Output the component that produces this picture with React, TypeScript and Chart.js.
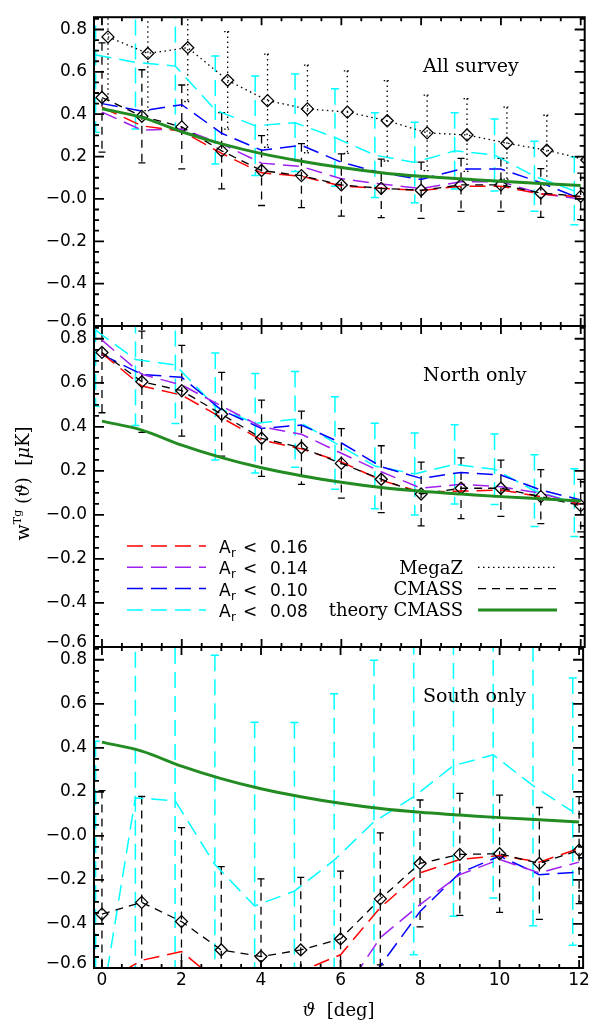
import React, { useEffect, useRef } from 'react';
import { Chart, registerables } from 'chart.js';

Chart.register(...registerables);

// ---------------- data ----------------
const THETA = [0, 1, 2, 3, 4, 5, 6, 7, 8, 9, 10, 11, 12];
const MEGAZ_OFFSET = 0.15;
const AR08_OFFSET = -0.16;

const THEORY_CMASS = [0.426, 0.385, 0.317, 0.26, 0.214, 0.178, 0.148, 0.124, 0.107, 0.095, 0.083, 0.073, 0.063];

const ALL_CMASS = [0.479, 0.39, 0.34, 0.227, 0.134, 0.11, 0.066, 0.05, 0.041, 0.066, 0.066, 0.028, 0.012];
const ALL_CMASS_ERR = [0.258, 0.22, 0.198, 0.18, 0.165, 0.151, 0.147, 0.138, 0.133, 0.125, 0.125, 0.115, 0.11];
const ALL_MEGAZ = [0.765, 0.687, 0.714, 0.56, 0.464, 0.425, 0.41, 0.369, 0.312, 0.302, 0.263, 0.23, 0.184];
const ALL_MEGAZ_ERR = [0.3, 0.27, 0.254, 0.23, 0.22, 0.207, 0.195, 0.19, 0.178, 0.172, 0.17, 0.165, 0.165];
const ALL_AR16 = [0.433, 0.345, 0.32, 0.215, 0.123, 0.107, 0.061, 0.05, 0.04, 0.06, 0.06, 0.023, 0.01];
const ALL_AR14 = [0.41, 0.325, 0.33, 0.26, 0.169, 0.153, 0.095, 0.07, 0.049, 0.081, 0.081, 0.025, 0.0];
const ALL_AR10 = [0.45, 0.415, 0.445, 0.31, 0.23, 0.253, 0.173, 0.123, 0.092, 0.141, 0.141, 0.077, 0.0];
const ALL_AR08 = [0.68, 0.645, 0.627, 0.42, 0.345, 0.36, 0.29, 0.207, 0.172, 0.227, 0.207, 0.107, 0.038];
const ALL_AR08_ERR = [0.365, 0.315, 0.3, 0.255, 0.235, 0.23, 0.23, 0.2, 0.19, 0.18, 0.17, 0.165, 0.16];

const NORTH_CMASS = [0.738, 0.605, 0.564, 0.457, 0.348, 0.305, 0.234, 0.162, 0.095, 0.121, 0.121, 0.083, 0.042];
const NORTH_CMASS_ERR = [0.274, 0.23, 0.206, 0.19, 0.173, 0.166, 0.158, 0.152, 0.145, 0.138, 0.128, 0.123, 0.119];
const NORTH_AR16 = [0.734, 0.585, 0.544, 0.441, 0.34, 0.3, 0.241, 0.157, 0.103, 0.108, 0.113, 0.083, 0.048];
const NORTH_AR14 = [0.794, 0.638, 0.59, 0.494, 0.4, 0.366, 0.28, 0.196, 0.121, 0.139, 0.128, 0.098, 0.048];
const NORTH_AR10 = [0.728, 0.638, 0.625, 0.476, 0.393, 0.408, 0.327, 0.219, 0.166, 0.193, 0.181, 0.113, 0.068];
const NORTH_AR08 = [0.839, 0.706, 0.681, 0.492, 0.416, 0.434, 0.327, 0.222, 0.186, 0.23, 0.207, 0.11, 0.056];
const NORTH_AR08_ERR = [0.346, 0.3, 0.266, 0.243, 0.226, 0.217, 0.21, 0.194, 0.186, 0.18, 0.16, 0.163, 0.154];

const SOUTH_CMASS = [-0.355, -0.302, -0.389, -0.518, -0.548, -0.518, -0.468, -0.286, -0.125, -0.084, -0.081, -0.125, -0.065];
const SOUTH_CMASS_ERR = [0.561, 0.481, 0.427, 0.378, 0.353, 0.33, 0.308, 0.3, 0.288, 0.277, 0.266, 0.254, 0.243];
const SOUTH_AR16 = [-0.67, -0.565, -0.525, -0.675, -0.72, -0.615, -0.54, -0.325, -0.168, -0.107, -0.089, -0.119, -0.057];
const SOUTH_AR14 = [-0.95, -0.95, -0.9, -0.95, -1.0, -0.9, -0.733, -0.462, -0.312, -0.176, -0.107, -0.168, -0.119];
const SOUTH_AR10 = [-1.0, -1.0, -0.95, -1.0, -1.05, -0.95, -0.85, -0.59, -0.343, -0.168, -0.092, -0.176, -0.164];
const SOUTH_AR08 = [-0.94, 0.172, 0.16, -0.13, -0.318, -0.251, -0.11, 0.064, 0.178, 0.319, 0.368, 0.228, 0.11];
const SOUTH_AR08_ERR = [1.37, 1.1, 1.02, 0.95, 0.834, 0.766, 0.756, 0.734, 0.718, 0.684, 0.65, 0.636, 0.607];

const Y_TICK_VALUES = [-0.6, -0.4, -0.2, 0, 0.2, 0.4, 0.6, 0.8];
const Y_TICK_LABELS = ['\u22120.6', '\u22120.4', '\u22120.2', '\u22120.0', '0.2', '0.4', '0.6', '0.8'];
const X_TICK_VALUES = [0, 2, 4, 6, 8, 10, 12];
const X_TICK_LABELS = ['0', '2', '4', '6', '8', '10', '12'];

const PANEL_LABELS = ['All survey', 'North only', 'South only'];
const AR_CUTS = ['0.16', '0.14', '0.10', '0.08'];
const SAMPLE_LABELS = ['MegaZ', 'CMASS', 'theory CMASS'];

// ---------------- styles ----------------
const X_MIN = -0.2;
const X_MAX = 12.1;
const Y_MIN = -0.6;
const Y_MAX = 0.858;

const RED = '#FF0000';
const PURPLE = '#A020F0';
const BLUE = '#0000FF';
const CYAN = '#00FFFF';
const GREEN = '#228B22';
const BLACK = '#000000';

const AR_COLORS = [RED, PURPLE, BLUE, CYAN];
const AR_DASH = [16, 8];
const CMASS_DASH = [8, 6];
const MEGAZ_DASH = [1.5, 3.5];

const SANS = '"DejaVu Sans", sans-serif';
const SERIF = '"DejaVu Serif", serif';

type Spec = {
  key: string;
  label: string;
  padTop: number;
  padBottom: number;
  showX: boolean;
  cmass: number[];
  cmassErr: number[];
  megaz?: number[];
  megazErr?: number[];
  ar: number[][];
  ar08Err: number[];
  legend: boolean;
  yTitle: boolean;
};

const PANELS: Spec[] = [
  {
    key: 'all', label: PANEL_LABELS[0], padTop: 5, padBottom: 697, showX: false,
    cmass: ALL_CMASS, cmassErr: ALL_CMASS_ERR, megaz: ALL_MEGAZ, megazErr: ALL_MEGAZ_ERR,
    ar: [ALL_AR16, ALL_AR14, ALL_AR10, ALL_AR08], ar08Err: ALL_AR08_ERR, legend: false, yTitle: false,
  },
  {
    key: 'north', label: PANEL_LABELS[1], padTop: 326, padBottom: 376, showX: false,
    cmass: NORTH_CMASS, cmassErr: NORTH_CMASS_ERR,
    ar: [NORTH_AR16, NORTH_AR14, NORTH_AR10, NORTH_AR08], ar08Err: NORTH_AR08_ERR, legend: true, yTitle: true,
  },
  {
    key: 'south', label: PANEL_LABELS[2], padTop: 647, padBottom: 0, showX: true,
    cmass: SOUTH_CMASS, cmassErr: SOUTH_CMASS_ERR,
    ar: [SOUTH_AR16, SOUTH_AR14, SOUTH_AR10, SOUTH_AR08], ar08Err: SOUTH_AR08_ERR, legend: false, yTitle: false,
  },
];

// ---------------- helpers ----------------
function lineDs(label: string, vals: number[], color: string, dash: number[], width: number, shift: number, extra: any = {}) {
  return {
    label,
    data: vals.map((v, i) => ({ x: THETA[i] + shift, y: v })),
    borderColor: color,
    backgroundColor: color,
    borderWidth: width,
    borderDash: dash,
    pointRadius: 0,
    pointHoverRadius: 0,
    tension: 0,
    fill: false,
    ...extra,
  };
}

const DIAMOND = {
  pointRadius: 6,
  pointStyle: 'rectRot',
  pointBorderWidth: 1.3,
  pointBorderColor: BLACK,
  pointBackgroundColor: 'rgba(0,0,0,0)',
};

function labelFor(values: number[], labels: string[], v: number) {
  const i = values.findIndex((t) => Math.abs(t - v) < 1e-6);
  return i >= 0 ? labels[i] : '';
}

const isBottomTick = (v: number) => Math.abs(v - Y_MIN) < 1e-6;

function drawErrorBars(chart: any) {
  const { ctx, chartArea, scales } = chart;
  const xs = scales.x;
  const ys = scales.y;
  ctx.save();
  ctx.beginPath();
  ctx.rect(chartArea.left, chartArea.top, chartArea.right - chartArea.left, chartArea.bottom - chartArea.top);
  ctx.clip();
  const dsets = chart.data.datasets;
  for (let k = dsets.length - 1; k >= 0; k--) {
    const ds = dsets[k];
    if (!ds.errors) continue;
    ctx.strokeStyle = ds.borderColor;
    ctx.lineWidth = ds.errWidth || ds.borderWidth;
    ds.data.forEach((p: any, i: number) => {
      const e = ds.errors[i];
      const px = xs.getPixelForValue(p.x);
      const pt = ys.getPixelForValue(p.y + e);
      const pb = ys.getPixelForValue(p.y - e);
      ctx.setLineDash(ds.borderDash || []);
      ctx.beginPath();
      ctx.moveTo(px, pt);
      ctx.lineTo(px, pb);
      ctx.stroke();
      ctx.setLineDash(ds.capDash || []);
      const c = ds.capHalf || 3.5;
      ctx.beginPath();
      ctx.moveTo(px - c, pt);
      ctx.lineTo(px + c, pt);
      ctx.moveTo(px - c, pb);
      ctx.lineTo(px + c, pb);
      ctx.stroke();
    });
  }
  ctx.restore();
}

function drawFrame(chart: any) {
  const { ctx, chartArea, scales } = chart;
  const { left, right, top, bottom } = chartArea;
  const xs = scales.x;
  const ys = scales.y;
  ctx.save();
  ctx.setLineDash([]);
  ctx.strokeStyle = BLACK;
  ctx.lineWidth = 1.8;
  ctx.beginPath();
  for (let k = 0; k <= 24; k++) {
    const px = xs.getPixelForValue(k * 0.5);
    const len = k % 4 === 0 ? 8 : 4;
    ctx.moveTo(px, bottom);
    ctx.lineTo(px, bottom - len);
    ctx.moveTo(px, top);
    ctx.lineTo(px, top + len);
  }
  for (let k = 0; k <= 30; k++) {
    const v = Y_MIN + k * 0.05;
    if (v > Y_MAX) break;
    const py = ys.getPixelForValue(v);
    const len = k % 4 === 0 ? 10 : 5;
    ctx.moveTo(left, py);
    ctx.lineTo(left + len, py);
    ctx.moveTo(right, py);
    ctx.lineTo(right - len, py);
  }
  ctx.stroke();
  ctx.lineWidth = 2;
  ctx.strokeRect(left, top, right - left, bottom - top);
  ctx.restore();
}

type Part = { t: string; font: string; dy?: number };

function measureParts(ctx: CanvasRenderingContext2D, parts: Part[]) {
  let w = 0;
  for (const p of parts) {
    ctx.font = p.font;
    w += ctx.measureText(p.t).width;
  }
  return w;
}

function drawParts(ctx: CanvasRenderingContext2D, parts: Part[], x: number, y: number) {
  let cx = x;
  ctx.textAlign = 'left';
  ctx.textBaseline = 'alphabetic';
  for (const p of parts) {
    ctx.font = p.font;
    ctx.fillText(p.t, cx, y + (p.dy || 0));
    cx += ctx.measureText(p.t).width;
  }
  return cx;
}

function drawLegend(chart: any) {
  const { ctx, chartArea } = chart;
  const { left, top } = chartArea;
  const rowY = (i: number) => top + 220 + 21.3 * i;
  ctx.save();
  ctx.fillStyle = BLACK;
  // left column: extinction cuts
  AR_CUTS.forEach((cut, i) => {
    const y = rowY(i);
    ctx.strokeStyle = AR_COLORS[i];
    ctx.lineWidth = 1.5;
    ctx.setLineDash(AR_DASH);
    ctx.beginPath();
    ctx.moveTo(left + 33, y);
    ctx.lineTo(left + 112, y);
    ctx.stroke();
    const base = y + 7;
    ctx.textAlign = 'left';
    ctx.textBaseline = 'alphabetic';
    ctx.font = `17px ${SANS}`;
    ctx.fillText('A', left + 125, base);
    ctx.font = `12px ${SANS}`;
    ctx.fillText('r', left + 137, base + 4);
    ctx.font = `17px ${SANS}`;
    ctx.fillText('<', left + 149, base);
    ctx.fillText(cut, left + 176, base);
  });
  // right column: samples
  const styles = [
    { color: BLACK, dash: MEGAZ_DASH, width: 1.3 },
    { color: BLACK, dash: CMASS_DASH, width: 1.3 },
    { color: GREEN, dash: [], width: 3 },
  ];
  SAMPLE_LABELS.forEach((lab, j) => {
    const y = rowY(j + 1);
    const st = styles[j];
    ctx.strokeStyle = st.color;
    ctx.lineWidth = st.width;
    ctx.setLineDash(st.dash);
    ctx.beginPath();
    ctx.moveTo(left + 384, y);
    ctx.lineTo(left + 463, y);
    ctx.stroke();
    ctx.font = `18px ${SERIF}`;
    ctx.textAlign = 'right';
    ctx.textBaseline = 'alphabetic';
    ctx.fillText(lab, left + 369, y + 6.5);
  });
  ctx.restore();
}

function drawYTitle(chart: any) {
  const { ctx, chartArea } = chart;
  const cy = (chartArea.top + chartArea.bottom) / 2 - 3;
  const parts: Part[] = [
    { t: 'w', font: `19px ${SERIF}` },
    { t: 'Tg', font: `11px ${SERIF}`, dy: -8 },
    { t: ' (', font: `18px ${SERIF}` },
    { t: '\u03D1', font: `italic 18px ${SERIF}` },
    { t: ')  [', font: `18px ${SERIF}` },
    { t: '\u03BC', font: `italic 18px ${SERIF}` },
    { t: 'K]', font: `18px ${SERIF}` },
  ];
  ctx.save();
  ctx.fillStyle = BLACK;
  ctx.translate(29, cy);
  ctx.rotate(-Math.PI / 2);
  const w = measureParts(ctx, parts);
  drawParts(ctx, parts, -w / 2, 0);
  ctx.restore();
}

function drawXTitle(chart: any) {
  const { ctx, chartArea } = chart;
  const cx = (chartArea.left + chartArea.right) / 2;
  const parts: Part[] = [
    { t: '\u03D1', font: `italic 18px ${SERIF}` },
    { t: '  [deg]', font: `18px ${SERIF}` },
  ];
  ctx.save();
  ctx.fillStyle = BLACK;
  const w = measureParts(ctx, parts);
  drawParts(ctx, parts, cx - w / 2, chartArea.bottom + 48);
  ctx.restore();
}

function makePlugin(spec: Spec) {
  return {
    id: 'decor_' + spec.key,
    beforeDatasetsDraw(chart: any) {
      drawErrorBars(chart);
    },
    afterDraw(chart: any) {
      drawFrame(chart);
      const { ctx, chartArea } = chart;
      ctx.save();
      ctx.fillStyle = BLACK;
      ctx.font = `19px ${SERIF}`;
      ctx.textAlign = 'left';
      ctx.textBaseline = 'middle';
      ctx.fillText(spec.label, chartArea.left + 329, chartArea.top + 50);
      ctx.restore();
      if (spec.legend) drawLegend(chart);
      if (spec.yTitle) drawYTitle(chart);
      if (spec.showX) drawXTitle(chart);
    },
  };
}

function buildConfig(spec: Spec): any {
  const datasets: any[] = [];
  datasets.push(
    lineDs('theory CMASS', THEORY_CMASS, GREEN, [], 3, 0, { tension: 0.4, cubicInterpolationMode: 'monotone' })
  );
  datasets.push(
    lineDs('CMASS', spec.cmass, BLACK, CMASS_DASH, 1.3, 0, { ...DIAMOND, errors: spec.cmassErr, capDash: [] })
  );
  if (spec.megaz) {
    datasets.push(
      lineDs('MegaZ', spec.megaz, BLACK, MEGAZ_DASH, 1.3, MEGAZ_OFFSET, {
        ...DIAMOND,
        errors: spec.megazErr,
        capDash: [1.5, 2],
      })
    );
  }
  const arNames = AR_CUTS.map((c) => 'A_r < ' + c);
  spec.ar.forEach((vals, i) => {
    const isCyan = i === 3;
    datasets.push(
      lineDs(arNames[i], vals, AR_COLORS[i], AR_DASH, 1.5, isCyan ? AR08_OFFSET : 0, isCyan ? { errors: spec.ar08Err, capDash: [], capHalf: 4 } : {})
    );
  });

  return {
    type: 'line',
    data: { datasets },
    options: {
      animation: false,
      responsive: false,
      devicePixelRatio: 1,
      events: [],
      layout: { padding: { left: 0, right: 4, top: spec.padTop, bottom: spec.padBottom } },
      plugins: { legend: { display: false }, tooltip: { enabled: false }, title: { display: false } },
      scales: {
        x: {
          type: 'linear',
          min: X_MIN,
          max: X_MAX,
          display: spec.showX,
          grid: { display: false, drawTicks: false },
          border: { display: false },
          afterBuildTicks: (s: any) => {
            s.ticks = X_TICK_VALUES.map((v) => ({ value: v }));
          },
          ticks: {
            autoSkip: false,
            maxRotation: 0,
            padding: 2,
            color: BLACK,
            font: { family: SANS, size: 17 },
            callback: (v: number) => labelFor(X_TICK_VALUES, X_TICK_LABELS, v),
          },
          afterFit: (s: any) => {
            if (spec.showX) s.height = 55;
          },
        },
        y: {
          type: 'linear',
          min: Y_MIN,
          max: Y_MAX,
          grid: { display: false, drawTicks: false },
          border: { display: false },
          afterBuildTicks: (s: any) => {
            s.ticks = Y_TICK_VALUES.map((v) => ({ value: v }));
          },
          ticks: {
            autoSkip: false,
            padding: 7,
            color: BLACK,
            // the lowest label is lifted a little above its tick, as in the original
            font: (c: any) => ({
              family: SANS,
              size: 17,
              lineHeight: c.tick && isBottomTick(c.tick.value) ? 0.55 : 1.2,
            }),
            callback: (v: number) => {
              const lab = labelFor(Y_TICK_VALUES, Y_TICK_LABELS, v);
              return isBottomTick(v) ? [lab, ''] : lab;
            },
          },
          afterFit: (s: any) => {
            s.width = 94;
          },
        },
      },
    },
    plugins: [makePlugin(spec)],
  };
}

function Panel({ spec }: { spec: Spec }) {
  const ref = useRef<HTMLCanvasElement>(null);
  useEffect(() => {
    const chart = new Chart(ref.current as HTMLCanvasElement, buildConfig(spec));
    return () => chart.destroy();
  }, [spec]);
  return (
    <canvas
      ref={ref}
      width={592}
      height={1023}
      style={{ position: 'absolute', left: 0, top: 0, width: '592px', height: '1023px' }}
    />
  );
}

export default function App() {
  return (
    <div style={{ position: 'absolute', left: 0, top: 0, width: '592px', height: '1023px', background: '#fff' }}>
      {PANELS.map((p) => (
        <Panel key={p.key} spec={p} />
      ))}
    </div>
  );
}
